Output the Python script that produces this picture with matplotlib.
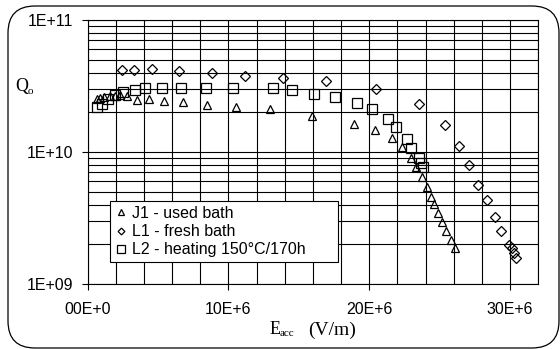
import numpy as np
import matplotlib.pyplot as plt
from matplotlib.patches import FancyBboxPatch

# accelerating field (MV/m) and quality factor for each cavity
j1_e = [0.64, 0.88, 1.18, 1.59, 1.94, 2.30, 2.82, 3.49, 4.34, 5.43, 6.76, 8.51, 10.56,
        12.98, 15.94, 18.90, 20.38, 21.59, 22.30, 22.94, 23.30, 23.77, 24.08, 24.41,
        24.60, 24.86, 25.20, 25.47, 25.79, 26.07]
j1_q = [2.51e10, 2.58e10, 2.62e10, 2.65e10, 2.67e10, 2.70e10, 2.67e10, 2.48e10, 2.51e10,
        2.43e10, 2.40e10, 2.27e10, 2.20e10, 2.12e10, 1.87e10, 1.63e10, 1.47e10, 1.28e10,
        1.09e10, 9.0e9, 7.74e9, 6.47e9, 5.43e9, 4.56e9, 4.02e9, 3.48e9, 2.97e9, 2.52e9,
        2.17e9, 1.89e9]

l1_e = [2.42, 3.30, 4.56, 6.50, 8.80, 11.15, 13.88, 16.96, 20.50, 23.53, 25.38, 26.41,
        27.09, 27.76, 28.35, 28.92, 29.35, 29.94, 30.11, 30.29, 30.46]
l1_q = [4.16e10, 4.16e10, 4.25e10, 4.13e10, 3.94e10, 3.79e10, 3.62e10, 3.45e10, 2.99e10,
        2.30e10, 1.59e10, 1.11e10, 8.0e9, 5.65e9, 4.30e9, 3.24e9, 2.52e9, 1.99e9,
        1.86e9, 1.71e9, 1.58e9]

l2_e = [0.66, 1.02, 1.44, 1.94, 2.51, 3.33, 4.10, 5.27, 6.64, 8.37, 10.34, 13.14, 14.51,
        16.06, 17.54, 19.12, 20.20, 21.32, 21.87, 22.69, 23.00, 23.51, 23.70, 23.79]
l2_q = [2.21e10, 2.33e10, 2.50e10, 2.70e10, 2.85e10, 2.95e10, 3.04e10, 3.04e10, 3.04e10,
        3.04e10, 3.04e10, 3.04e10, 2.95e10, 2.77e10, 2.62e10, 2.34e10, 2.11e10, 1.78e10,
        1.56e10, 1.25e10, 1.08e10, 8.93e9, 8.26e9, 7.70e9]

x_ticks = [0, 10e6, 20e6, 30e6]
x_labels = ["00E+0", "10E+6", "20E+6", "30E+6"]
y_ticks = [1e9, 1e10, 1e11]
y_labels = ["1E+09", "1E+10", "1E+11"]

plt.rcParams['font.family'] = 'Liberation Sans'

fig = plt.figure(figsize=(5.6, 3.49), dpi=100)
ax = fig.add_axes([0.1566, 0.1862, 0.8044, 0.7565])

ax.plot(np.array(j1_e) * 1e6, j1_q, '^', ms=6, mfc='none', mec='black', mew=0.9,
        label='J1 - used bath')
ax.plot(np.array(l1_e) * 1e6, l1_q, 'D', ms=4.6, mfc='none', mec='black', mew=0.9,
        label='L1 - fresh bath')
ax.plot(np.array(l2_e) * 1e6, l2_q, 's', ms=7.2, mfc='none', mec='black', mew=0.9,
        label='L2 - heating 150°C/170h')

ax.set_yscale('log')
ax.set_xlim(0, 32e6)
ax.set_ylim(1e9, 1e11)
ax.set_xticks(x_ticks)
ax.set_xticklabels(x_labels)
ax.set_xticks(np.arange(0, 32.1e6, 2e6), minor=True)
ax.set_yticks(y_ticks)
ax.set_yticklabels(y_labels)
ax.set_yticks([m * 10**d for d in (9, 10) for m in range(2, 10)], minor=True)
ax.yaxis.set_minor_formatter(plt.NullFormatter())
ax.grid(True, which='both', color='black', lw=0.8)
ax.tick_params(which='major', direction='out', length=4.3, width=0.8, labelsize=11.5,
               color='black')
ax.tick_params(axis='y', which='major', pad=6.3)
ax.tick_params(axis='x', which='major', pad=9)
ax.tick_params(which='minor', length=0)
for s in ax.spines.values():
    s.set_linewidth(0.8)
    s.set_color('black')

leg = ax.legend(loc='lower left', bbox_to_anchor=(0.0495, 0.083, 0.506, 0.239),
                mode='expand', borderaxespad=0, fontsize=11.5, fancybox=False,
                edgecolor='black', framealpha=1, handlelength=0.8, handletextpad=0.3,
                labelspacing=0.2, borderpad=0.3, markerscale=0.75)
leg.get_frame().set_linewidth(0.8)

fig.text(22 / 560, 1 - 87 / 349, 'Q', family='Liberation Serif', fontsize=13,
         ha='center', va='center')
fig.text(30.5 / 560, 1 - 92 / 349, 'o', family='Liberation Serif', fontsize=8,
         ha='center', va='center')
fig.text(270 / 560, 1 - 330 / 349, 'E', family='Liberation Serif', fontsize=13,
         ha='left', va='center')
fig.text(280 / 560, 1 - 333 / 349, 'acc', family='Liberation Serif', fontsize=8,
         ha='left', va='center')
fig.text(308 / 560, 1 - 330 / 349, '(V/m)', family='Liberation Serif', fontsize=14,
         ha='left', va='center')

border = FancyBboxPatch((0.08, 0.01), 5.51, 3.42, boxstyle='round,pad=0,rounding_size=0.27',
                        transform=fig.dpi_scale_trans, fill=False, ec='black', lw=0.9)
fig.patches.append(border)

fig.savefig('out.png', dpi=100)
